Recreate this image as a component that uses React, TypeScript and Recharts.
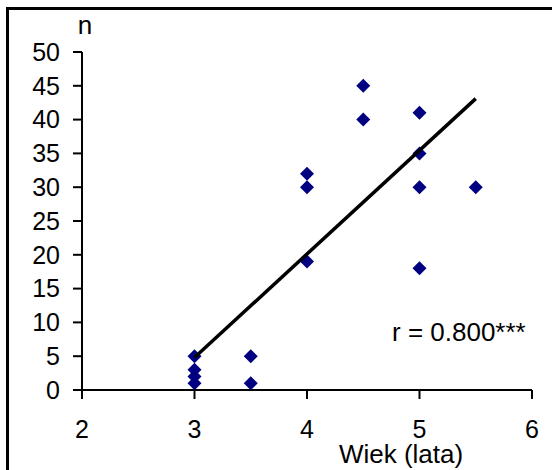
import { ScatterChart, Scatter, XAxis, YAxis } from "recharts";

// Wiek dzieci (lata) i liczba n
const ages = [3, 3, 3, 3, 3.5, 3.5, 4, 4, 4, 4.5, 4.5, 5, 5, 5, 5, 5.5];
const counts = [5, 3, 2, 1, 5, 1, 32, 30, 19, 45, 40, 41, 35, 30, 18, 30];

const xTicks = [2, 3, 4, 5, 6];
const yTicks = [0, 5, 10, 15, 20, 25, 30, 35, 40, 45, 50];

// linia trendu, końce
const trendAges = [3, 5.5];
const trendCounts = [4.8, 43.1];

const points = ages.map((x, i) => ({ x, y: counts[i] }));
const trend = trendAges.map((x, i) => ({ x, y: trendCounts[i] }));

const FONT = "'Liberation Sans', Arial, sans-serif";

function Diamond(props: { cx?: number; cy?: number }) {
  const { cx = 0, cy = 0 } = props;
  const r = 7;
  return (
    <polygon
      points={`${cx},${cy - r} ${cx + r},${cy} ${cx},${cy + r} ${cx - r},${cy}`}
      fill="#000080"
    />
  );
}

export default function App() {
  const axisStyle = { stroke: "#000", strokeWidth: 2 };
  const tickStyle = { fill: "#000", fontSize: 25, fontFamily: FONT };

  return (
    <div
      style={{
        position: "absolute",
        left: 0,
        top: 0,
        width: 552,
        height: 470,
        background: "#fff",
        fontFamily: FONT,
      }}
    >
      <ScatterChart
        width={552}
        height={470}
        margin={{ top: 52, right: 20, bottom: 0, left: 0 }}
      >
        <XAxis
          type="number"
          dataKey="x"
          domain={[2, 6]}
          ticks={xTicks}
          height={80}
          axisLine={axisStyle}
          tickLine={axisStyle}
          tickSize={9}
          tickMargin={21}
          tick={tickStyle}
          allowDataOverflow
        />
        <YAxis
          type="number"
          dataKey="y"
          domain={[0, 50]}
          ticks={yTicks}
          width={82}
          axisLine={axisStyle}
          tickLine={axisStyle}
          tickSize={9}
          tickMargin={13}
          tick={tickStyle}
          interval={0}
          allowDataOverflow
        />
        <Scatter data={points} shape={<Diamond />} isAnimationActive={false} />
        <Scatter
          data={trend}
          line={{ stroke: "#000", strokeWidth: 3.5 }}
          shape={() => <g />}
          isAnimationActive={false}
        />
      </ScatterChart>

      <svg
        width={552}
        height={470}
        style={{ position: "absolute", left: 0, top: 0, pointerEvents: "none" }}
      >
        <line x1={7.5} y1={7} x2={7.5} y2={470} stroke="#000" strokeWidth={3} />
        <line x1={6} y1={8.5} x2={552} y2={8.5} stroke="#000" strokeWidth={3} />
        <text x={85} y={34} textAnchor="middle" fontSize={26} fontFamily={FONT}>
          n
        </text>
        <text x={392} y={341} fontSize={26} fontFamily={FONT}>
          r = 0.800***
        </text>
        <text x={401} y={463} textAnchor="middle" fontSize={26} fontFamily={FONT}>
          Wiek (lata)
        </text>
      </svg>
    </div>
  );
}
